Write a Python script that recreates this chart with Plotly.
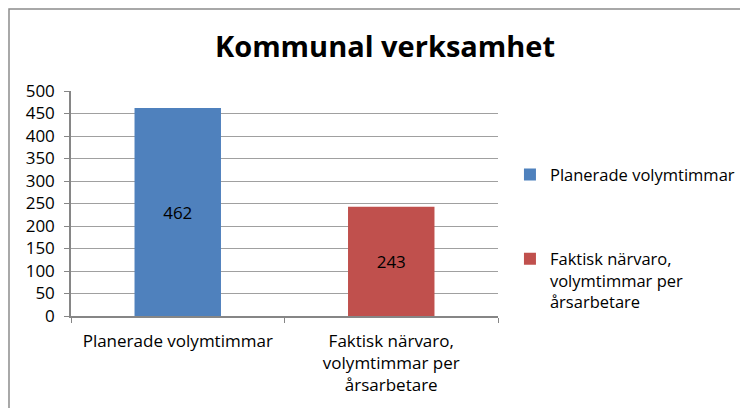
import plotly.graph_objects as go

categories = ["Planerade volymtimmar", "Faktisk närvaro,<br>volymtimmar per<br>årsarbetare"]
series_names = ["Planerade volymtimmar", "Faktisk närvaro,<br>volymtimmar per<br>årsarbetare"]
values = [462, 243]
colors = ["#4F81BD", "#C0504D"]

FONT = "Open Sans, Liberation Sans, sans-serif"

fig = go.Figure()
for i, (cat, name, val, col) in enumerate(zip(categories, series_names, values, colors)):
    fig.add_trace(
        go.Bar(
            x=[cat],
            y=[val],
            name=name,
            marker=dict(color=col, line=dict(width=0)),
            width=0.405,
            text=[str(val)],
            textposition="inside",
            insidetextanchor="middle",
            textfont=dict(color="black", size=17, family=FONT),
            legendgroup=f"g{i}",
            hoverinfo="x+y",
        )
    )

# the page adds an 8px body margin, so margins are shifted by that much;
# figure is a bit wider than the window so the legend doesn't push the plot area
W = 770
fig.update_layout(
    width=W,
    height=408,
    barmode="overlay",
    paper_bgcolor="white",
    plot_bgcolor="white",
    font=dict(family=FONT, size=17, color="black"),
    title=dict(
        text="<b>Kommunal verksamhet</b>",
        x=377 / W,
        xanchor="center",
        y=0.905,
        yanchor="middle",
        font=dict(size=29, family=FONT, color="black"),
    ),
    margin=dict(l=63, r=W - 490, t=83, b=100),
    showlegend=True,
    legend=dict(
        x=1.028,
        y=0.706,
        xanchor="left",
        yanchor="top",
        traceorder="grouped",
        tracegroupgap=60,
        itemsizing="constant",
        font=dict(size=16.5, family=FONT),
        valign="top",
    ),
    shapes=[
        dict(
            type="rect",
            xref="paper",
            yref="paper",
            x0=-0.1452,
            x1=1.7,
            y0=-0.5,
            y1=1.364,
            line=dict(color="#8c8c8c", width=1.5),
            fillcolor="rgba(0,0,0,0)",
            layer="below",
        )
    ],
)

fig.update_xaxes(
    type="category",
    showline=True,
    linecolor="#868686",
    linewidth=1.5,
    ticks="outside",
    tickson="boundaries",
    ticklen=5,
    tickcolor="#868686",
    showgrid=False,
    ticklabelstandoff=9,
    tickfont=dict(size=17, family=FONT),
)
fig.update_yaxes(
    range=[0, 500],
    dtick=50,
    showline=True,
    linecolor="#868686",
    linewidth=1.5,
    ticks="outside",
    ticklen=5,
    tickcolor="#868686",
    showgrid=True,
    gridcolor="#a0a0a0",
    gridwidth=1,
    zeroline=False,
    ticklabelstandoff=6,
    tickfont=dict(size=17, family=FONT),
)

fig.write_html("out.html")
